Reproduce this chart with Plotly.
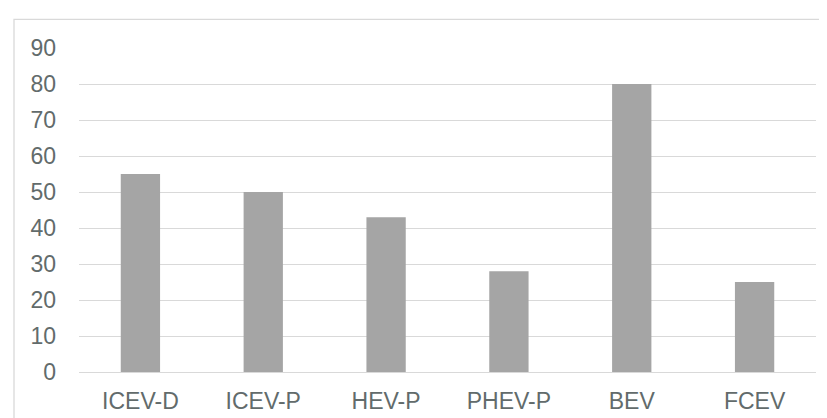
import plotly.graph_objects as go

categories = ["ICEV-D", "ICEV-P", "HEV-P", "PHEV-P", "BEV", "FCEV"]
values = [55, 50, 43, 28, 80, 25]
y_ticks = [0, 10, 20, 30, 40, 50, 60, 70, 80, 90]

W, H = 827, 418
L, R, T, B = 71, 19, 40, 50
pw, ph = W - L - R, H - T - B

fig = go.Figure(go.Bar(
    x=categories, y=values,
    marker=dict(color="#A5A5A5", line=dict(width=0)),
    width=0.32,
))

text_color = "#626B6B"
fnt = dict(family="Liberation Sans, Arial, sans-serif", size=23, color=text_color)

fig.update_layout(
    width=W, height=H,
    margin=dict(l=L, r=R, t=T, b=B, pad=0),
    paper_bgcolor="white", plot_bgcolor="white",
    showlegend=False,
    xaxis=dict(showgrid=False, zeroline=False, showline=False, ticks="",
               tickfont=fnt, ticklabelstandoff=13),
    yaxis=dict(range=[0, 90], tickvals=y_ticks, showgrid=True,
               gridcolor="#D9D9D9", gridwidth=1.3, zeroline=True,
               zerolinecolor="#D9D9D9", zerolinewidth=1.3, showline=False,
               ticks="", tickfont=fnt, ticklabelstandoff=22),
    shapes=[dict(type="rect", xref="paper", yref="paper",
                 x0=(6 - L) / pw, x1=1.2, y0=-0.3, y1=(H - B - 11) / ph,
                 line=dict(color="#D9D9D9", width=1.3), layer="below")],
)

fig.write_html("out.html")
